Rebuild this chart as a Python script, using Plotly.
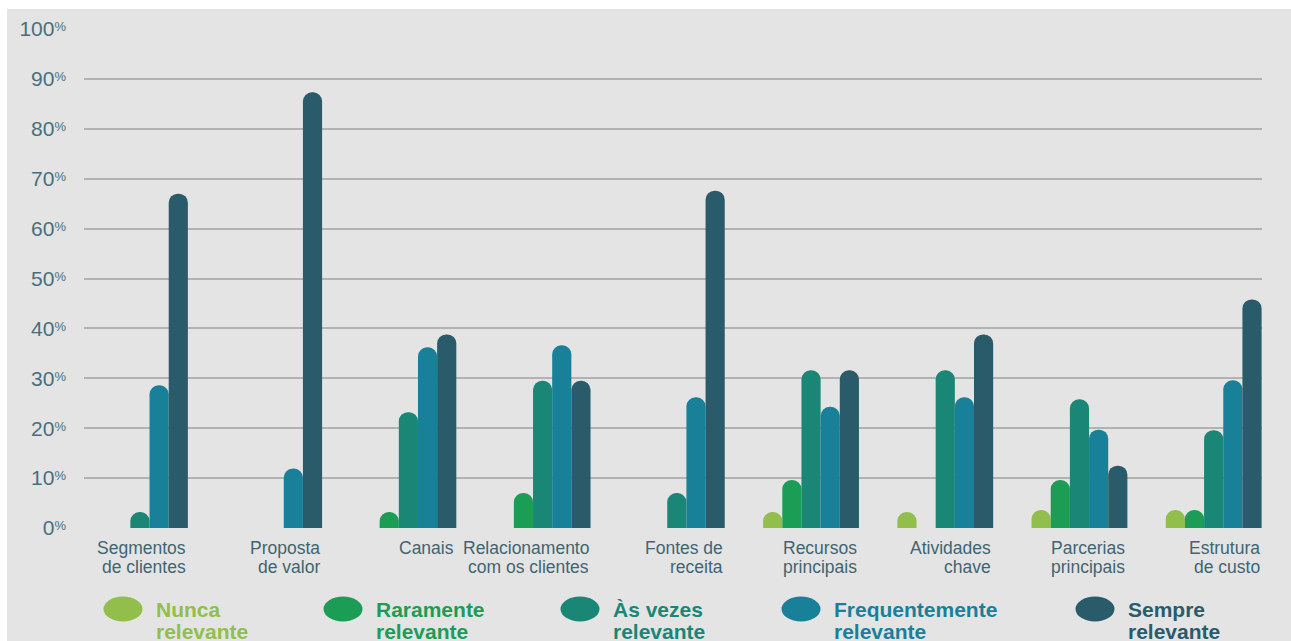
import plotly.graph_objects as go

categories = ["Segmentos<br>de clientes", "Proposta<br>de valor", "Canais",
              "Relacionamento<br>com os clientes", "Fontes de<br>receita",
              "Recursos<br>principais", "Atividades<br>chave",
              "Parcerias<br>principais", "Estrutura<br>de custo"]
series_names = ["Nunca<br>relevante", "Raramente<br>relevante", "Às vezes<br>relevante",
                "Frequentemente<br>relevante", "Sempre<br>relevante"]
nunca = [0, 0, 0, 0, 0, 3.2, 3.2, 3.6, 3.6]
raramente = [0, 0, 3.2, 7.0, 0, 9.6, 0, 9.6, 3.6]
as_vezes = [3.2, 0, 23.2, 29.5, 7.0, 31.6, 31.6, 25.8, 19.6]
frequente = [28.6, 11.9, 36.2, 36.6, 26.2, 24.3, 26.2, 19.7, 29.6]
sempre = [67.0, 87.3, 38.8, 29.5, 67.6, 31.6, 38.8, 12.5, 45.8]
tick_vals = [0, 10, 20, 30, 40, 50, 60, 70, 80, 90, 100]
tick_text = [f"{v}<span style='font-size:13px;baseline-shift:5px'>%</span>" for v in tick_vals]

colors = ["#92be4b", "#1c9d56", "#1a8676", "#19809a", "#2a5b6a"]
values = [nunca, raramente, as_vezes, frequente, sempre]

FONT = "Liberation Sans"
W, H = 1291, 641
L, R, T, B = 84, 29, 29, 113
pw = W - L - R
ph = H - T - B

fig = go.Figure()
x_idx = list(range(len(categories)))
for name, vals, col in zip(series_names, values, colors):
    fig.add_trace(go.Bar(x=x_idx, y=vals, name=name.replace("<br>", " "),
                         marker=dict(color=col, line=dict(width=0)), showlegend=False))

# category labels, right-aligned to the group's right edge, one annotation per line
half_group = (1 - 0.286) / 2
for i, cat in enumerate(categories):
    for k, line in enumerate(cat.split("<br>")):
        fig.add_annotation(x=i + half_group, y=0, xref="x", yref="paper", text=line,
                           showarrow=False, xanchor="right", yanchor="top", align="right",
                           yshift=-8 - 19 * k,
                           font=dict(family=FONT, size=17.5, color="#3f6571"))

# custom legend
legend_px = [123, 343, 580, 801, 1095]
for px, name, col in zip(legend_px, series_names, colors):
    cx = (px - L) / pw
    cy = (T + ph - 609) / ph
    rx = 19.5 / pw
    ry = 12.5 / ph
    fig.add_shape(type="circle", xref="paper", yref="paper", x0=cx - rx, x1=cx + rx,
                  y0=cy - ry, y1=cy + ry, fillcolor=col, line=dict(width=0))
    for k, line in enumerate(name.split("<br>")):
        fig.add_annotation(x=(px + 31 - L) / pw, y=(T + ph - 596 - 22 * k) / ph,
                           xref="paper", yref="paper",
                           text=f"<b>{line}</b>", showarrow=False, xanchor="left",
                           yanchor="top", align="left",
                           font=dict(family=FONT, size=21, color=col))

# white border strips (top and left) of the picture
fig.add_shape(type="rect", xref="paper", yref="paper", x0=-L / pw, x1=(W - L) / pw,
              y0=(ph + T - 9) / ph, y1=(ph + T) / ph, fillcolor="white", line=dict(width=0),
              layer="below")
fig.add_shape(type="rect", xref="paper", yref="paper", x0=-L / pw, x1=(7 - L) / pw,
              y0=-B / ph, y1=(ph + T) / ph, fillcolor="white", line=dict(width=0),
              layer="below")

fig.update_layout(
    width=W, height=H,
    margin=dict(l=L, r=R, t=T, b=B, pad=0),
    paper_bgcolor="#e4e4e4", plot_bgcolor="rgba(0,0,0,0)",
    barmode="group", bargap=0.286, bargroupgap=0, barcornerradius=9,
    showlegend=False,
    font=dict(family=FONT),
    xaxis=dict(range=[-0.417, 8.36], showticklabels=False, showgrid=False,
               zeroline=False, showline=False, ticks=""),
    yaxis=dict(range=[0, 100], tickvals=tick_vals, ticktext=tick_text,
               showgrid=True, gridcolor="#b2b2b2", gridwidth=2, zeroline=False,
               showline=False, ticks="", ticklabelstandoff=17,
               tickfont=dict(family=FONT, size=21, color="#47707d")),
)

fig.write_html("out.html")
